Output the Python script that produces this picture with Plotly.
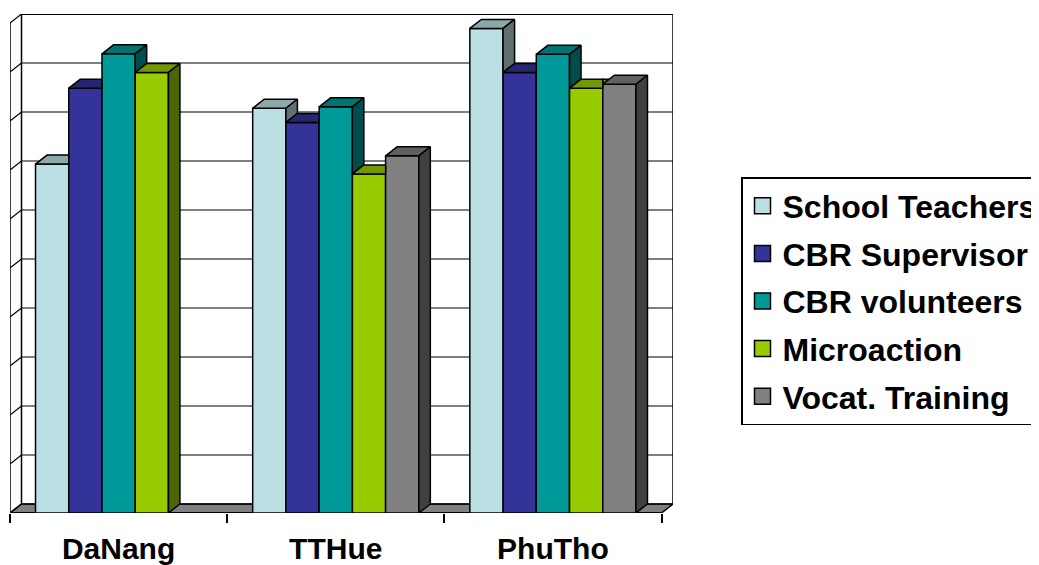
import plotly.graph_objects as go

# ---------------- data ----------------
categories = ["DaNang", "TTHue", "PhuTho"]
series_names = ["School Teachers", "CBR Supervisor", "CBR volunteers", "Microaction", "Vocat. Training"]
school_teachers = [71.2, 82.6, 98.9]
cbr_supervisor = [86.7, 79.7, 89.9]
cbr_volunteers = [93.7, 82.9, 93.6]
microaction = [89.9, 69.2, 86.7]
vocat_training = [None, 72.9, 87.5]
y_ticks = list(range(0, 101, 10))

series_values = [school_teachers, cbr_supervisor, cbr_volunteers, microaction, vocat_training]

# ---------------- style ----------------
front_colors = ["#BBE0E3", "#333399", "#009999", "#99CC00", "#808080"]
top_colors = ["#8CA8AA", "#262673", "#007373", "#739900", "#606060"]
side_colors = ["#5E7072", "#1A1A4D", "#004D4D", "#4D6600", "#404040"]

# page body has an 8px margin, so figure is drawn 8px in from the window corner
PAGE_OFF = 8
FIG_W, FIG_H = 1039 - PAGE_OFF, 565 - PAGE_OFF
L_PX, R_PX, T_PX, B_PX = 10 - PAGE_OFF, 673 - PAGE_OFF, 14 - PAGE_OFF, 513 - PAGE_OFF
LEG_X_PX, LEG_Y_PX = 741 - PAGE_OFF, 177 - PAGE_OFF
DEPTH_X_PX, DEPTH_Y_PX = 11.5, 9.0
ncat = len(categories)
y_max = y_ticks[-1]
x_ppu = (R_PX - L_PX - DEPTH_X_PX) / ncat
DX = DEPTH_X_PX / x_ppu
y_ppu = (B_PX - T_PX - DEPTH_Y_PX) / y_max
DY = DEPTH_Y_PX / y_ppu
group_w = 0.765
nser = len(series_names)
bw = group_w / nser
FONT = "Liberation Sans, Arial, sans-serif"
LW = 1.5


def clip_halfplane(poly, f):
    """Sutherland-Hodgman clip of polygon to region f(x,y) >= 0."""
    out = []
    n = len(poly)
    for k in range(n):
        p, q = poly[k], poly[(k + 1) % n]
        fp, fq = f(*p), f(*q)
        if fp >= 0:
            out.append(p)
        if (fp >= 0) != (fq >= 0):
            t = fp / (fp - fq)
            out.append((p[0] + t * (q[0] - p[0]), p[1] + t * (q[1] - p[1])))
    return out


fig = go.Figure()

# front faces as real bars
for j, name in enumerate(series_names):
    fig.add_trace(go.Bar(
        x=[i + 0.5 for i in range(ncat)], y=series_values[j],
        width=bw, offset=-group_w / 2 + j * bw,
        name=name, legendgroup=name, showlegend=False,
        marker=dict(color=front_colors[j], line=dict(color="black", width=LW)),
        hoverinfo="skip",
    ))

# 3D top and side faces (visible parts only)
for j in range(nser):
    top_x, top_y, side_x, side_y = [], [], [], []
    for i in range(ncat):
        h = series_values[j][i]
        if h is None:
            continue
        L = i + 0.5 - group_w / 2 + j * bw
        R = L + bw
        hn = series_values[j + 1][i] if j + 1 < nser else None
        polys_top = []
        if hn is None or hn <= h:
            polys_top.append([(L, h), (R, h), (R + DX, h + DY), (L + DX, h + DY)])
        else:
            polys_top.append([(L, h), (R, h), (R, h + DY), (L + DX, h + DY)])
            tri = [(R, h), (R + DX, h + DY), (R, h + DY)]
            f = lambda x, y, hn=hn, R=R: y - (hn + (x - R) * DY / DX)
            c = clip_halfplane(tri, f)
            if len(c) >= 3:
                polys_top.append(c)
        for poly in polys_top:
            top_x += [p[0] for p in poly] + [poly[0][0], None]
            top_y += [p[1] for p in poly] + [poly[0][1], None]
        lo = 0 if hn is None else hn
        if h > lo:
            poly = [(R, lo), (R, h), (R + DX, h + DY), (R + DX, lo + DY)]
            side_x += [p[0] for p in poly] + [poly[0][0], None]
            side_y += [p[1] for p in poly] + [poly[0][1], None]
    for xs, ys, col in ((top_x, top_y, top_colors[j]), (side_x, side_y, side_colors[j])):
        if xs:
            fig.add_trace(go.Scatter(
                x=xs, y=ys, mode="lines", fill="toself", fillcolor=col,
                line=dict(color="black", width=LW), showlegend=False,
                hoverinfo="skip", legendgroup=series_names[j],
            ))

# legend entries (square swatches)
for j, name in enumerate(series_names):
    fig.add_trace(go.Scatter(
        x=[None], y=[None], mode="markers", name=name, legendgroup=name,
        marker=dict(symbol="square", size=16, color=front_colors[j],
                    line=dict(color="black", width=1.5)),
        hoverinfo="skip",
    ))

# walls, floor and grid (below traces)
shapes = []
shapes.append(dict(type="path", xref="x", yref="y", layer="below",
                   path=f"M0,0 L{ncat},0 L{ncat + DX},{DY} L{DX},{DY} Z",
                   fillcolor="#808080", line=dict(color="black", width=LW)))
for v in y_ticks:
    shapes.append(dict(type="line", xref="x", yref="y", layer="below",
                       x0=DX, y0=v + DY, x1=ncat + DX, y1=v + DY,
                       line=dict(color="black", width=2.2 if v == y_max else 1.2)))
    shapes.append(dict(type="line", xref="x", yref="y", layer="below",
                       x0=0, y0=v, x1=DX, y1=v + DY,
                       line=dict(color="black", width=1.2)))
shapes.append(dict(type="line", xref="x", yref="y", layer="below",
                   x0=DX, y0=DY, x1=DX, y1=y_max + DY, line=dict(color="black", width=1.5)))
shapes.append(dict(type="line", xref="x", yref="y", layer="below",
                   x0=ncat + DX, y0=DY, x1=ncat + DX, y1=y_max + DY, line=dict(color="black", width=1.5)))
shapes.append(dict(type="line", xref="x", yref="y", layer="below",
                   x0=0, y0=0, x1=0, y1=y_max, line=dict(color="black", width=1.5)))
shapes.append(dict(type="line", xref="x", yref="y", layer="below",
                   x0=0, y0=0, x1=ncat, y1=0, line=dict(color="black", width=2)))

plot_w = R_PX - L_PX
plot_h = B_PX - T_PX
fig.update_layout(
    width=FIG_W, height=FIG_H,
    margin=dict(l=L_PX, r=FIG_W - R_PX, t=T_PX, b=FIG_H - B_PX, autoexpand=False),
    paper_bgcolor="white", plot_bgcolor="white",
    barmode="overlay",
    shapes=shapes,
    showlegend=True,
    legend=dict(
        x=(LEG_X_PX - L_PX) / plot_w, y=(B_PX - LEG_Y_PX) / plot_h,
        xanchor="left", yanchor="top",
        bordercolor="black", borderwidth=1.5, bgcolor="white",
        font=dict(family=FONT, size=32, color="black", weight="bold"),
        tracegroupgap=3, traceorder="grouped",
    ),
    xaxis=dict(
        range=[0, ncat + DX], showgrid=False, zeroline=False, showline=False,
        tickvals=[i + 0.5 for i in range(ncat)], ticktext=categories,
        ticks="", ticklabelstandoff=15,
        tickfont=dict(family=FONT, size=30, color="black", weight="bold"),
        minor=dict(tickvals=list(range(ncat + 1)), ticks="outside", ticklen=9,
                   tickcolor="black", tickwidth=1.5, showgrid=False),
        fixedrange=True,
    ),
    yaxis=dict(
        range=[0, y_max + DY], showgrid=False, zeroline=False, showline=False,
        showticklabels=False, ticks="", fixedrange=True,
    ),
)

fig.write_html("out.html")
